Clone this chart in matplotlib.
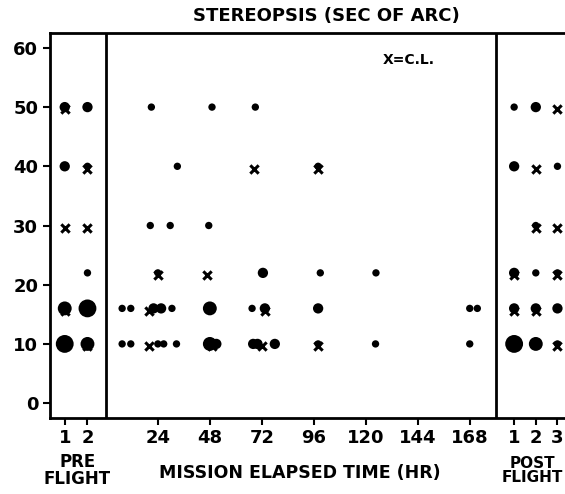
import numpy as np
import matplotlib.pyplot as plt

plt.rcParams['font.family'] = ['DejaVu Sans']
plt.rcParams['font.weight'] = 'bold'

# session positions on the hour axis (pre / post flight sessions squeezed in)
pre = [-19, -8.5]
post = [188.5, 198.5, 208.5]

# dots: x (hr), value (sec of arc), count of subjects (sets dot size)
dot_x = [pre[0], pre[0], pre[0], pre[0],
         pre[1], pre[1], pre[1], pre[1], pre[1],
         21, 49, 69,
         33, 98,
         20.5, 29.7, 47.5,
         24, 72.5, 99, 124.7,
         7.5, 11.5, 22, 25.5, 30.5, 48, 67.5, 73.4, 98, 168, 171.5,
         7.5, 11.5, 24, 26.7, 32.6, 48, 51, 68, 70, 78, 98, 124.5, 168,
         post[0], post[0], post[0], post[0], post[0],
         post[1], post[1], post[1], post[1], post[1],
         post[2], post[2], post[2], post[2]]
dot_y = [50, 40, 16, 10,
         50, 40, 22, 16, 10,
         50, 50, 50,
         40, 40,
         30, 30, 30,
         22, 22, 22, 22,
         16, 16, 16, 16, 16, 16, 16, 16, 16, 16, 16,
         10, 10, 10, 10, 10, 10, 10, 10, 10, 10, 10, 10, 10,
         50, 40, 22, 16, 10,
         50, 30, 22, 16, 10,
         40, 22, 16, 10]
dot_n = [2, 2, 3, 4,
         2, 1, 1, 4, 3,
         1, 1, 1,
         1, 1,
         1, 1, 1,
         1, 2, 1, 1,
         1, 1, 2, 2, 1, 3, 1, 2, 2, 1, 1,
         1, 1, 1, 1, 1, 3, 2, 2, 2, 2, 1, 1, 1,
         1, 2, 2, 2, 4,
         2, 1, 1, 2, 3,
         1, 1, 2, 1]

# X = C.L.
cl_x = [pre[0], pre[0], pre[0],
        pre[1], pre[1], pre[1],
        68.5, 98, 24, 46.5, 20, 73.4, 20, 49, 72, 98,
        post[0], post[0],
        post[1], post[1], post[1],
        post[2], post[2], post[2], post[2]]
cl_y = [50, 30, 16,
        40, 30, 10,
        40, 40, 22, 22, 16, 16, 10, 10, 10, 10,
        22, 16,
        40, 30, 16,
        50, 30, 22, 10]

size_map = {1: 28, 2: 55, 3: 100, 4: 165}

fig = plt.figure(figsize=(5.65, 4.94), dpi=100)
ax = fig.add_axes([0.0885, 0.154, 0.92, 0.779])

ax.scatter(cl_x, np.array(cl_y) - 0.4, marker='x', s=36, linewidths=2.2,
           color='black', zorder=2)
ax.scatter(dot_x, dot_y, s=[size_map[n] for n in dot_n], color='black',
           edgecolors='none', zorder=3)

ax.axvline(0, color='black', lw=2)
ax.axvline(180, color='black', lw=2)

ax.set_xlim(-25.8, 214.2)
ax.set_ylim(-2.5, 62.5)

ax.set_yticks(range(0, 61, 10))
ax.set_xticks(pre + [24, 48, 72, 96, 120, 144, 168] + post)
ax.set_xticklabels(['1', '2', '24', '48', '72', '96', '120', '144', '168',
                    '1', '2', '3'])
ax.tick_params(axis='both', labelsize=13, width=1.5, length=5, direction='out')
ax.tick_params(axis='x', pad=3)
for sp in ax.spines.values():
    sp.set_linewidth(2)

fig.text(0.577, 0.967, 'STEREOPSIS (SEC OF ARC)', ha='center', va='center',
         fontsize=13, fontweight='bold')
ax.text(0.64, 0.93, 'X=C.L.', transform=ax.transAxes, ha='left', va='center',
        fontsize=10, fontweight='bold')
fig.text(0.137, 0.047, 'PRE\nFLIGHT', ha='center', va='center',
         fontsize=12, fontweight='bold', linespacing=0.95)
fig.text(0.53, 0.042, 'MISSION ELAPSED TIME (HR)', ha='center', va='center',
         fontsize=12.5, fontweight='bold')
fig.text(0.943, 0.047, 'POST\nFLIGHT', ha='center', va='center',
         fontsize=11, fontweight='bold', linespacing=0.95)

fig.savefig('out.png', dpi=100)
